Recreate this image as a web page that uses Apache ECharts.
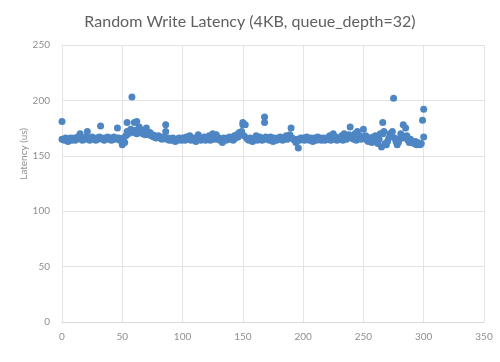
<!DOCTYPE html>
<html><head><meta charset="utf-8">
<script src="https://cdn.jsdelivr.net/npm/echarts@6/dist/echarts.min.js"></script>
<style>html,body{margin:0;padding:0;background:#fff}#c{width:500px;height:362px}</style>
</head><body><div id="c"></div>
<script>
var titleText = 'Random Write Latency (4KB, queue_depth=32)';
var yName = 'Latency (us)';
var xTicks = [0, 50, 100, 150, 200, 250, 300, 350];
var yTicks = [0, 50, 100, 150, 200, 250];
// latency per sample index 0..300
var latency = [
181,165,164,166,165,163,165,166,164,165,
166,164,165,167,166,170,165,164,166,165,
167,172,166,164,165,167,166,165,164,166,
165,167,177,166,165,164,166,165,167,166,
165,164,166,167,165,166,175,166,164,165,
160,166,162,168,180,170,172,174,203,171,
180,173,181,172,176,171,173,170,172,169,
175,170,169,171,168,169,167,168,166,167,
168,166,167,165,166,167,178,165,166,164,
165,164,166,165,163,165,164,166,165,164,
166,165,164,167,165,166,168,164,165,166,
165,163,166,169,165,164,166,165,167,164,
166,165,168,164,166,170,165,167,169,165,
166,164,165,162,166,165,164,166,165,167,
165,166,164,168,166,169,167,171,170,172,
180,168,178,166,165,164,166,165,163,165,
166,168,164,165,167,166,164,165,185,167,
165,166,164,167,165,163,166,165,164,166,
165,167,166,164,165,166,168,165,167,169,
175,166,165,164,162,165,157,164,166,165,
166,164,165,167,165,164,166,165,163,166,
165,164,167,165,166,164,165,166,164,165,
166,165,168,164,166,170,165,167,164,166,
165,166,168,164,170,166,165,167,169,176,
166,168,165,170,164,172,166,168,165,167,
174,166,168,164,163,166,165,162,167,164,
168,163,161,165,170,158,180,172,161,160,
163,166,170,168,172,202,166,163,160,162,
165,170,168,178,166,175,168,164,162,165,
163,162,161,163,160,162,161,160,161,182,
192
];
// additional samples sharing an index with another sample
var extraX = [0, 86, 168, 300, 150, 62, 54, 266];
var extraY = [165, 172, 180, 167, 178, 170, 172, 170];

var pts = latency.map(function(v, i){ return [i, v]; });
for (var k = 0; k < extraX.length; k++) pts.push([extraX[k], extraY[k]]);

var chart = echarts.init(document.getElementById('c'));
var gray = '#8f8f8f';
chart.setOption({
  animation: false,
  title: {
    text: titleText, left: 'center', top: 9,
    textStyle: {fontFamily: 'Lato', fontSize: 16, fontWeight: 'normal', color: '#5f5f5f'}
  },
  grid: {left: 62, right: 16, top: 45, bottom: 40},
  xAxis: {
    type: 'value', min: xTicks[0], max: xTicks[xTicks.length-1], interval: 50,
    axisLine: {show: true, lineStyle: {color: '#d9d9d9'}},
    axisTick: {show: false},
    axisLabel: {color: gray, fontSize: 10, fontFamily: 'Lato', margin: 10},
    splitLine: {show: true, lineStyle: {color: '#e3e3e3'}}
  },
  yAxis: {
    type: 'value', min: yTicks[0], max: yTicks[yTicks.length-1], interval: 50,
    axisLine: {show: false},
    axisTick: {show: false},
    axisLabel: {color: gray, fontSize: 10, fontFamily: 'Lato', margin: 12},
    splitLine: {show: true, lineStyle: {color: '#e3e3e3'}}
  },
  graphic: [{
    type: 'text', left: 19, top: 128, rotation: Math.PI/2,
    style: {text: yName, fill: gray, font: '10px Lato'}
  }],
  series: [{
    type: 'scatter', data: pts, symbolSize: 7,
    itemStyle: {color: '#4e86c4', opacity: 1}
  }]
});
</script></body></html>
